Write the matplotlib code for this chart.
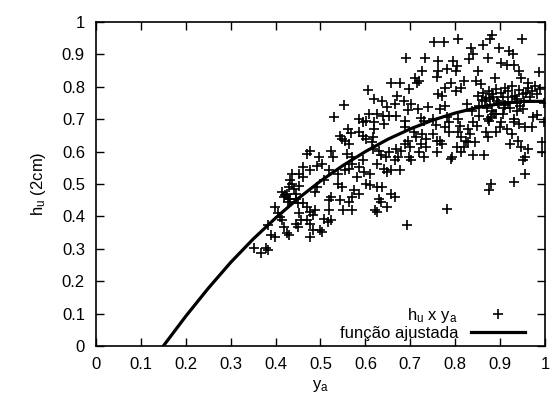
import matplotlib.pyplot as plt
import numpy as np

plt.rcParams['font.family'] = ['Liberation Sans', 'DejaVu Sans']
plt.rcParams['mathtext.fontset'] = 'custom'
plt.rcParams['mathtext.rm'] = 'Liberation Sans'
plt.rcParams['mathtext.it'] = 'Liberation Sans'

ya = [0.753, 0.776, 0.806, 0.882, 0.878, 0.949, 0.863, 0.897, 0.920, 0.928,
      0.835, 0.840, 0.830, 0.690, 0.733, 0.761, 0.796, 0.803, 0.872, 0.903,
      0.915, 0.930, 0.986, 0.727, 0.762, 0.782, 0.802, 0.851, 0.942, 0.710,
      0.720, 0.714, 0.759, 0.657, 0.676, 0.790, 0.820, 0.888, 0.846, 0.857,
      0.947, 0.963, 0.606, 0.698, 0.778, 0.762, 0.770, 0.802, 0.813, 0.671,
      0.620, 0.638, 0.686, 0.666, 0.702, 0.552, 0.649, 0.739, 0.696, 0.717,
      0.766, 0.778, 0.653, 0.640, 0.625, 0.530, 0.668, 0.608, 0.562, 0.567,
      0.586, 0.594, 0.602, 0.641, 0.620, 0.688, 0.688, 0.724, 0.731, 0.750,
      0.757, 0.782, 0.786, 0.806, 0.810, 0.840, 0.849, 0.880, 0.876, 0.900,
      0.915, 0.930, 0.943, 0.955, 0.974, 0.982, 0.998, 0.970,
      0.851, 0.863, 0.875, 0.882, 0.890, 0.902, 0.910, 0.918, 0.926, 0.934,
      0.942, 0.950, 0.962, 0.970, 0.978, 0.982, 0.990, 0.866, 0.878, 0.894,
      0.906, 0.918, 0.938, 0.954, 0.966, 0.898, 0.870, 0.882, 0.854, 0.922,
      0.938, 0.906, 0.886, 0.854, 0.838, 0.826, 0.998, 0.938,
      0.694, 0.700, 0.720, 0.731, 0.698, 0.702, 0.766, 0.770, 0.794, 0.790,
      0.803, 0.813, 0.820, 0.829, 0.840, 0.845, 0.864, 0.868, 0.872, 0.892,
      0.927, 0.923, 0.939, 0.947, 0.963, 0.955, 0.951, 0.994, 0.994, 0.955,
      0.930, 0.880, 0.876, 0.782, 0.692,
      0.602, 0.614, 0.618, 0.630, 0.634, 0.646, 0.625, 0.641, 0.649, 0.657,
      0.665, 0.673, 0.653, 0.669, 0.680, 0.676, 0.594, 0.586, 0.598, 0.610,
      0.602, 0.610, 0.625, 0.638, 0.630, 0.634, 0.622, 0.625, 0.649, 0.657,
      0.665, 0.571, 0.563, 0.582, 0.575, 0.571, 0.586, 0.563, 0.551, 0.571,
      0.539, 0.547, 0.539, 0.555, 0.524, 0.520, 0.520, 0.524, 0.543, 0.559,
      0.571, 0.555, 0.563, 0.543, 0.547, 0.586, 0.594, 0.620, 0.618, 0.524,
      0.528, 0.504, 0.520, 0.508, 0.492, 0.488, 0.496, 0.492, 0.476, 0.469,
      0.461, 0.476, 0.453, 0.461, 0.437, 0.433, 0.437, 0.429, 0.414, 0.418,
      0.425, 0.429, 0.445, 0.449, 0.461, 0.469, 0.476, 0.484, 0.488, 0.469,
      0.476, 0.484, 0.500, 0.476, 0.453, 0.457, 0.445, 0.449, 0.425, 0.429,
      0.414, 0.418, 0.398, 0.406, 0.410, 0.390, 0.398, 0.382, 0.378, 0.382,
      0.367, 0.351, 0.508, 0.516, 0.504,
      0.708, 0.712, 0.727, 0.735, 0.751, 0.759, 0.778, 0.786, 0.806, 0.829,
      0.833, 0.813, 0.825, 0.724, 0.735, 0.759, 0.688,
      0.868, 0.884, 0.896, 0.912, 0.926, 0.944, 0.958, 0.874, 0.890, 0.908,
      0.932, 0.950, 0.860, 0.902, 0.420, 0.432, 0.445, 0.440, 0.452, 0.428]
hu = [0.939, 0.939, 0.948, 0.961, 0.948, 0.948, 0.930, 0.920, 0.912, 0.900,
      0.920, 0.900, 0.887, 0.890, 0.890, 0.879, 0.881, 0.863, 0.890, 0.874,
      0.867, 0.867, 0.847, 0.849, 0.849, 0.854, 0.849, 0.849, 0.849, 0.828,
      0.818, 0.813, 0.830, 0.813, 0.813, 0.813, 0.818, 0.826, 0.818, 0.808,
      0.826, 0.813, 0.789, 0.792, 0.795, 0.777, 0.772, 0.787, 0.795, 0.772,
      0.762, 0.757, 0.757, 0.746, 0.748, 0.744, 0.738, 0.738, 0.727, 0.731,
      0.731, 0.741, 0.711, 0.711, 0.716, 0.708, 0.711, 0.716, 0.670, 0.656,
      0.700, 0.690, 0.693, 0.685, 0.690, 0.695, 0.675, 0.703, 0.693, 0.700,
      0.683, 0.706, 0.690, 0.700, 0.680, 0.690, 0.680, 0.706, 0.693, 0.675,
      0.670, 0.690, 0.685, 0.675, 0.706, 0.714, 0.690, 0.675,
      0.772, 0.782, 0.787, 0.777, 0.792, 0.782, 0.797, 0.787, 0.802, 0.772,
      0.790, 0.777, 0.797, 0.787, 0.802, 0.777, 0.792, 0.757, 0.762, 0.757,
      0.767, 0.752, 0.762, 0.757, 0.767, 0.746, 0.736, 0.726, 0.741, 0.736,
      0.726, 0.716, 0.716, 0.711, 0.726, 0.746, 0.751, 0.751,
      0.633, 0.613, 0.598, 0.583, 0.583, 0.573, 0.634, 0.624, 0.583, 0.578,
      0.613, 0.598, 0.613, 0.629, 0.588, 0.629, 0.588, 0.660, 0.644, 0.660,
      0.654, 0.624, 0.634, 0.613, 0.608, 0.583, 0.573, 0.629, 0.598, 0.532,
      0.506, 0.501, 0.480, 0.424, 0.373,
      0.639, 0.629, 0.608, 0.603, 0.588, 0.583, 0.562, 0.547, 0.537, 0.542,
      0.573, 0.583, 0.598, 0.608, 0.603, 0.542, 0.573, 0.552, 0.537, 0.532,
      0.501, 0.496, 0.491, 0.491, 0.455, 0.445, 0.419, 0.414, 0.430, 0.470,
      0.460, 0.562, 0.547, 0.522, 0.480, 0.460, 0.470, 0.445, 0.419, 0.419,
      0.501, 0.491, 0.532, 0.542, 0.460, 0.450, 0.419, 0.388, 0.450, 0.593,
      0.583, 0.634, 0.624, 0.649, 0.639, 0.659, 0.649, 0.669, 0.644, 0.603,
      0.583, 0.562, 0.542, 0.511, 0.491, 0.476, 0.583, 0.557, 0.603, 0.593,
      0.552, 0.542, 0.532, 0.522, 0.532, 0.511, 0.501, 0.491, 0.476, 0.460,
      0.470, 0.455, 0.455, 0.440, 0.440, 0.430, 0.414, 0.404, 0.419, 0.388,
      0.378, 0.358, 0.358, 0.337, 0.409, 0.388, 0.378, 0.368, 0.348, 0.343,
      0.388, 0.368, 0.430, 0.409, 0.399, 0.343, 0.337, 0.373, 0.302, 0.297,
      0.286, 0.302, 0.393, 0.383, 0.353,
      0.660, 0.644, 0.654, 0.639, 0.654, 0.634, 0.675, 0.659, 0.660, 0.670,
      0.654, 0.644, 0.634, 0.624, 0.613, 0.598, 0.624,
      0.765, 0.770, 0.750, 0.745, 0.770, 0.740, 0.780, 0.700, 0.715, 0.735,
      0.700, 0.730, 0.760, 0.690, 0.465, 0.455, 0.470, 0.485, 0.495, 0.445]

# funcao ajustada, pontos
fit_x = [0.150, 0.20, 0.25, 0.30, 0.35, 0.40, 0.45, 0.50, 0.55, 0.60,
         0.65, 0.70, 0.75, 0.80, 0.85, 0.90, 0.95, 1.00]
fit_y = [0.000, 0.092, 0.178, 0.258, 0.330, 0.395, 0.455, 0.509, 0.557, 0.600,
         0.638, 0.670, 0.697, 0.719, 0.736, 0.748, 0.755, 0.755]

fig = plt.figure(figsize=(5.53, 4.05), dpi=100)
ax = fig.add_axes([0.1736, 0.1457, 0.8119, 0.8000])

ax.plot(ya, hu, '+', color='black', markersize=7, markeredgewidth=1.2,
        label=r'h$_\mathrm{u}$ x y$_\mathrm{a}$')
ax.plot(fit_x, fit_y, '-', color='black', linewidth=2.3, label=u'função ajustada')

ax.set_xlim(0, 1)
ax.set_ylim(0, 1)
ax.set_xticks(np.arange(0, 1.01, 0.1))
ax.set_yticks(np.arange(0, 1.01, 0.1))
ax.set_xticklabels(['0', '0.1', '0.2', '0.3', '0.4', '0.5', '0.6', '0.7', '0.8', '0.9', '1'])
ax.set_yticklabels(['0', '0.1', '0.2', '0.3', '0.4', '0.5', '0.6', '0.7', '0.8', '0.9', '1'])
ax.tick_params(direction='in', top=True, right=True, length=6, width=1,
               labelsize=12, pad=8)
for s in ax.spines.values():
    s.set_linewidth(1.2)

ax.set_xlabel(r'y$_\mathrm{a}$', fontsize=12, labelpad=4)
ax.set_ylabel(r'h$_\mathrm{u}$ (2cm)', fontsize=12, labelpad=10)

ax.legend(loc='lower right', bbox_to_anchor=(0.955, 0.015), frameon=False,
          markerfirst=False, fontsize=12, handlelength=3.2, borderpad=0,
          borderaxespad=0, labelspacing=0.05, handletextpad=0.8)

fig.savefig('out.png')
